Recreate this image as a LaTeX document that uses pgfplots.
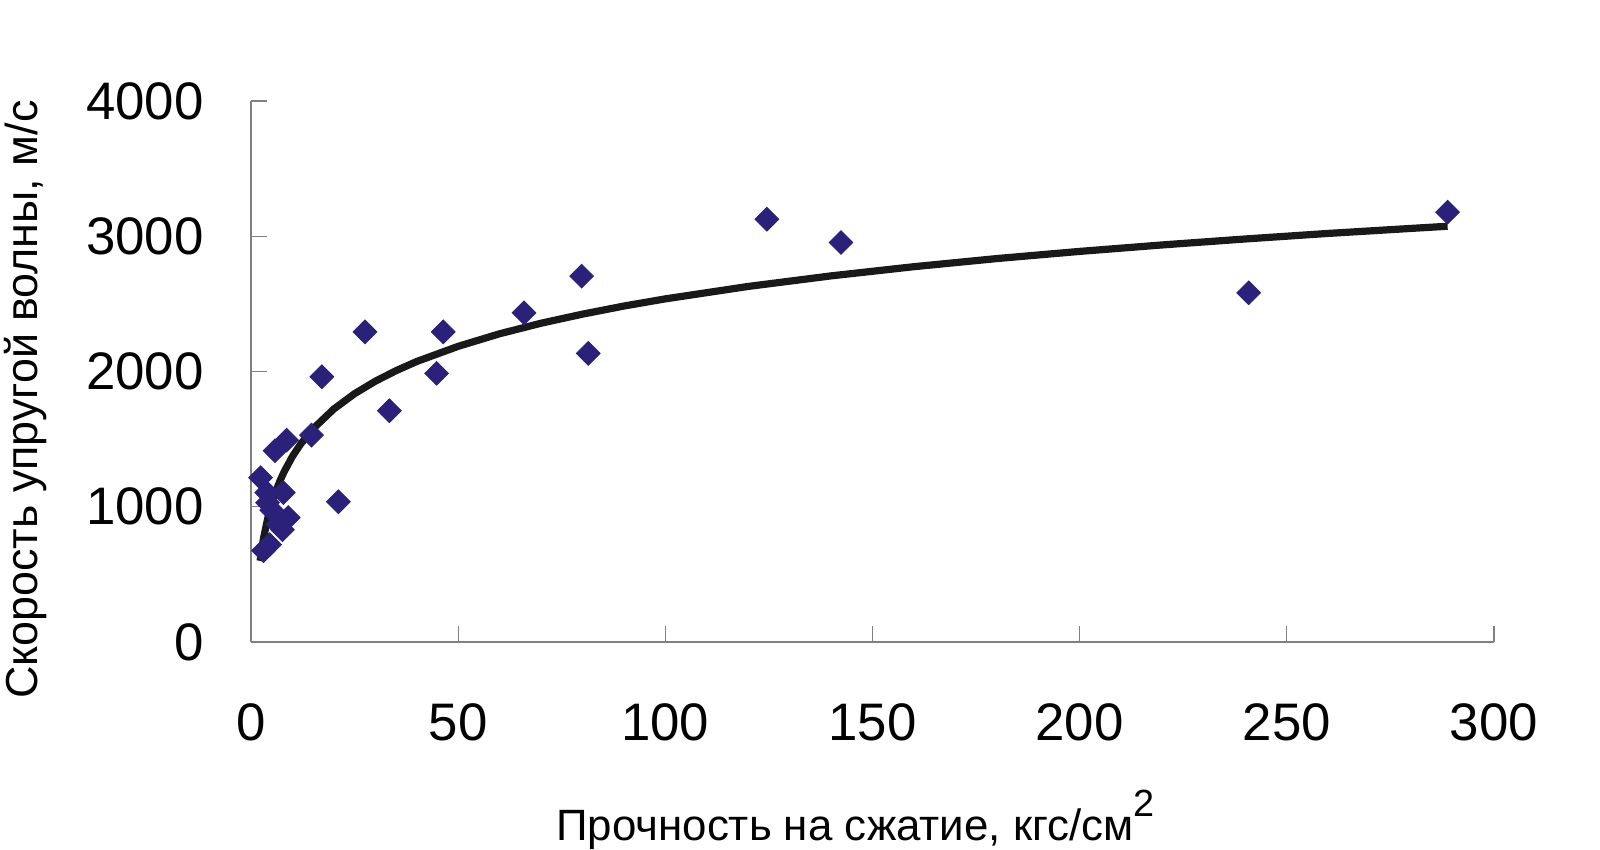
\documentclass[border=0pt]{standalone}
\usepackage{fontspec}
\setmainfont{Liberation Sans}
\usepackage{pgfplots}
\pgfplotsset{compat=1.18}
\definecolor{pts}{RGB}{43,32,122}
\definecolor{axgray}{RGB}{128,128,128}
\begin{document}
\begin{tikzpicture}
\begin{axis}[
    scale only axis,
    width=621.5bp, height=270.5bp,
    xmin=0, xmax=300, ymin=0, ymax=4000,
    xtick={0,50,...,300},
    ytick={0,1000,...,4000},
    axis x line=bottom, axis y line=left,
    axis line style={-, draw=axgray, line width=0.6bp},
    tick style={draw=axgray, line width=0.6bp},
    tick align=inside,
    major tick length=8bp,
    /pgf/number format/1000 sep={},
    /pgf/number format/assume math mode=true,
    ticklabel style={font=\fontsize{26.5}{30}\selectfont},
    xticklabel style={anchor=center, yshift=-40bp},
    yticklabel style={anchor=east, inner sep=0pt, xshift=-23.5bp},
    xlabel={Прочность на сжатие, кгс/см\raisebox{0.55em}{\fontsize{19}{20}\selectfont 2}},
    ylabel={Скорость упругой волны, м/с},
    xlabel style={font=\fontsize{22}{26}\selectfont,
        at={(axis description cs:0.4863,-0.329)}, anchor=center},
    ylabel style={font=\fontsize{22.5}{26}\selectfont,
        at={(axis description cs:-0.181,0.448)}, anchor=center},
    clip=false,
]
% trend line (logarithmic fit)
\addplot[color=black!90, line width=3.6bp, mark=none] coordinates {
    (2.2,600)(3,763)(4,909)(5,1021)(6,1114)(7,1192)(8,1259)(10,1372)
    (12,1464)(15,1577)(20,1723)(25,1836)(30,1928)(35,2006)(40,2074)
    (50,2186)(60,2279)(70,2357)(80,2424)(90,2484)(100,2537)(120,2629)
    (140,2707)(160,2775)(180,2835)(200,2888)(220,2936)(240,2980)
    (260,3021)(280,3058)(288.8,3074)
};
% measurements
\addplot[only marks, mark=square*, mark size=4.2bp,
    mark options={rotate=45, fill=pts, draw=pts}] coordinates {
    (2.3,1215)(3.8,1105)(7.8,1105)(4.0,1030)(5.0,975)(9.0,920)
    (7.6,830)(6.5,870)(3.0,675)(4.5,720)(5.8,1414)(8.6,1493)
    (14.6,1530)(17.1,1961)(21.1,1037)(27.5,2293)(33.4,1710)
    (44.8,1986)(46.4,2293)(65.9,2434)(79.8,2705)(81.4,2134)
    (124.5,3126)(142.4,2954)(240.8,2582)(288.8,3178)
};
\end{axis}
\pgfresetboundingbox
\path[use as bounding box] (-125.5bp,-104bp) rectangle (674.5bp,321bp);
\end{tikzpicture}
\end{document}
